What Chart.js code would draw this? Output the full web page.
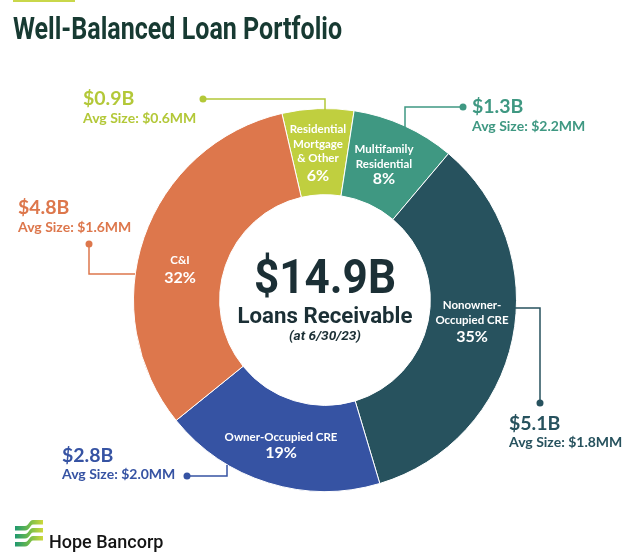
<!DOCTYPE html>
<html>
<head>
<meta charset="utf-8">
<script src="https://cdn.jsdelivr.net/npm/chart.js@4.4.0/dist/chart.umd.min.js"></script>
<style>
  html, body { margin: 0; padding: 0; background: #fff; }
  #wrap { position: relative; width: 640px; height: 558px; overflow: hidden; }
  #bar { position: absolute; left: 13px; top: 0; width: 62px; height: 2px; background: #c9d74a; }
  #title { position: absolute; left: 13px; top: 12px; font: 700 32px Roboto; line-height: 32px;
           color: #173a32; white-space: nowrap; transform-origin: 0 0; }
  #brand { position: absolute; left: 49px; top: 533px; font: 500 18px Roboto; line-height: 18px; color: #141414; }
  canvas { position: absolute; left: 0; top: 0; }
</style>
</head>
<body>
<div id="wrap">
  <div id="bar"></div>
  <canvas id="myChart" width="640" height="558"></canvas>
  <div id="title">Well-Balanced Loan Portfolio</div>
  <div id="brand">Hope Bancorp</div>
</div>
<script>
// data
let categories = ['Residential Mortgage & Other', 'Multifamily Residential', 'Nonowner-Occupied CRE', 'Owner-Occupied CRE', 'C&I'];
let balances = [0.9, 1.3, 5.1, 2.8, 4.8]; // $B
let shares = ['6%', '8%', '35%', '19%', '32%'];
let avgSizes = ['$0.6MM', '$2.2MM', '$1.8MM', '$2.0MM', '$1.6MM'];
let nameLines = [['Residential', 'Mortgage', '& Other'], ['Multifamily', 'Residential'], ['Nonowner-', 'Occupied CRE'], ['Owner-Occupied CRE'], ['C&I']];
let totalText = '$14.9B';
let totalLabel = 'Loans Receivable';
let asOf = '(at 6/30/23)';

const COLORS = ['#c0cf3f', '#3f9882', '#27525e', '#3653a3', '#dd774c'];
const TEXT_COLORS = ['#b3c838', '#3f9882', '#27525e', '#3653a3', '#dd774c'];

// where the white labels inside the ring sit (first baseline)
const segPos = [
    {x: 318, y: 133, pct: 181},
    {x: 384, y: 153, pct: 184},
    {x: 472, y: 309, pct: 342},
    {x: 281, y: 441, pct: 458},
    {x: 180, y: 264, pct: 283},
];

// callouts: text anchor + connector path (first point gets the dot)
const callouts = [
    {x: 83, y: 105, y2: 123, path: [[203, 99], [325, 99], [325, 110]]},
    {x: 472, y: 113, y2: 131, path: [[463, 107], [405, 107], [405, 127]]},
    {x: 509, y: 430, y2: 447, path: [[540, 403], [540, 308], [515, 308]]},
    {x: 62, y: 462, y2: 479, path: [[187, 476], [227, 476], [227, 465]]},
    {x: 18, y: 214, y2: 232, path: [[89, 244], [89, 274], [135, 274]]},
];

let fitText = (ctx, text, x, y, w) => {
    let m = ctx.measureText(text).width;
    ctx.save();
    ctx.translate(x, y);
    ctx.scale(w / m, 1);
    ctx.textAlign = 'center';
    ctx.fillText(text, 0, 0);
    ctx.restore();
}

let drawLogo = (ctx) => {
    let g = ctx.createLinearGradient(15, 0, 43, 0);
    g.addColorStop(0, '#1f9870');
    g.addColorStop(0.5, '#6fbb4c');
    g.addColorStop(1, '#cdd83b');
    ctx.fillStyle = g;
    for (let k = 0; k < 3; k++) {
        let t = 520 + k * 8;
        ctx.beginPath();
        ctx.moveTo(15, t + 6);
        ctx.lineTo(25, t + 6);
        ctx.bezierCurveTo(29, t + 6, 29, t, 33, t);
        ctx.lineTo(43, t);
        ctx.lineTo(43, t + 4.5);
        ctx.lineTo(33, t + 4.5);
        ctx.bezierCurveTo(30, t + 4.5, 30, t + 10.5, 25, t + 10.5);
        ctx.lineTo(15, t + 10.5);
        ctx.closePath();
        ctx.fill();
    }
}

let labelsPlugin = {
    id: 'labels',
    afterDatasetsDraw(chart) {
        let ctx = chart.ctx;
        ctx.save();
        ctx.textBaseline = 'alphabetic';

        // white labels inside the ring
        ctx.fillStyle = '#fff';
        ctx.textAlign = 'center';
        segPos.forEach((p, i) => {
            ctx.font = '700 11.5px Lato';
            nameLines[i].forEach((line, j) => ctx.fillText(line, p.x, p.y + j * 14.5));
            ctx.font = '700 16px Lato';
            ctx.fillText(shares[i], p.x, p.pct);
        });

        // callouts
        callouts.forEach((c, i) => {
            let col = TEXT_COLORS[i];
            ctx.strokeStyle = col;
            ctx.fillStyle = col;
            ctx.lineWidth = 1.5;
            ctx.beginPath();
            c.path.forEach((pt, j) => j ? ctx.lineTo(pt[0], pt[1]) : ctx.moveTo(pt[0], pt[1]));
            ctx.stroke();
            ctx.beginPath();
            ctx.arc(c.path[0][0], c.path[0][1], 3.5, 0, Math.PI * 2);
            ctx.fill();
            ctx.textAlign = 'left';
            ctx.font = '700 19.5px Lato';
            ctx.fillText('$' + balances[i].toFixed(1) + 'B', c.x, c.y);
            ctx.font = '700 14px Lato';
            ctx.fillText('Avg Size: ' + avgSizes[i], c.x, c.y2);
        });

        // centre text
        let arc = chart.getDatasetMeta(0).data[0];
        let cx = arc.x;
        ctx.fillStyle = '#1b2f35';
        ctx.font = '700 49px Roboto';
        fitText(ctx, totalText, cx, 293, 142);
        ctx.font = '700 22px Roboto';
        fitText(ctx, totalLabel, cx, 323, 175);
        ctx.font = 'italic 700 13.5px Roboto';
        fitText(ctx, asOf, cx, 340, 72);

        drawLogo(ctx);
        ctx.restore();
    }
};

let data = {
    labels: categories,
    datasets: [{
        data: balances,
        backgroundColor: COLORS,
        borderColor: '#ffffff',
        borderWidth: 1,
    }]
};

let config = {
    type: 'doughnut',
    data: data,
    options: {
        responsive: false,
        animation: false,
        rotation: -13,
        cutout: '55%',
        layout: {padding: {left: 133, right: 123, top: 108, bottom: 66}},
        plugins: {
            legend: {display: false},
            tooltip: {enabled: false},
        }
    },
    plugins: [labelsPlugin]
};

let myChart = new Chart(document.getElementById('myChart'), config);

// squeeze the title to the slide's condensed width
let title = document.getElementById('title');
title.style.transform = 'scaleX(' + (329 / title.offsetWidth) + ')';
</script>
</body>
</html>
